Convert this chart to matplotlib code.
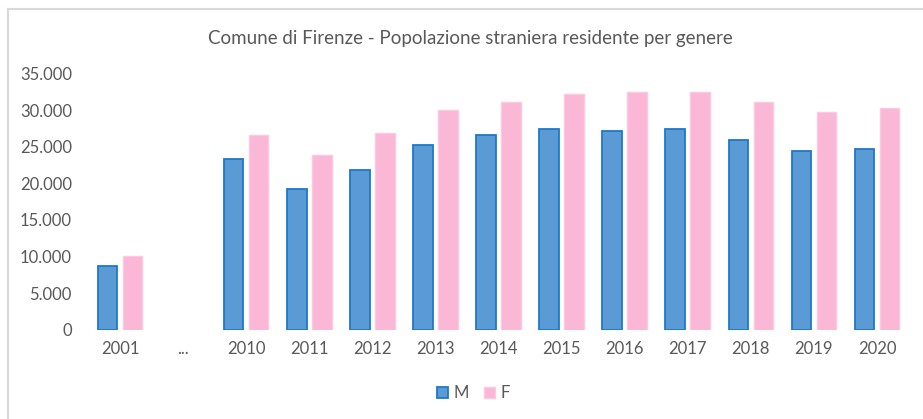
import matplotlib
matplotlib.use("Agg")
import matplotlib.pyplot as plt
from matplotlib.lines import Line2D
from matplotlib.patches import Patch
import numpy as np

categories = ["2001", "...", "2010", "2011", "2012", "2013", "2014", "2015",
              "2016", "2017", "2018", "2019", "2020"]
maschi = [8700, None, 23300, 19200, 21900, 25300, 26700, 27500,
          27200, 27400, 26000, 24400, 24700]
femmine = [10000, None, 26600, 23900, 26900, 30100, 31200, 32300,
           32500, 32600, 31200, 29800, 30400]
yticks = [0, 5000, 10000, 15000, 20000, 25000, 30000, 35000]

plt.rcParams['font.family'] = ['Lato', 'DejaVu Sans']
TXT = "#595959"

fig = plt.figure(figsize=(9.23, 4.19), dpi=100)
ax = fig.add_axes([0.0959, 0.2136, 0.8884, 0.6098])

x = np.arange(len(categories))
mx = [xi for xi, v in zip(x, maschi) if v is not None]
mv = [v for v in maschi if v is not None]
fx = [xi for xi, v in zip(x, femmine) if v is not None]
fv = [v for v in femmine if v is not None]

w = 0.31
off = 0.198
ax.bar(np.array(mx) - off, mv, width=w, color="#5B9BD5", edgecolor="#1F78C8",
       linewidth=1.3, label="M", zorder=2)
ax.bar(np.array(fx) + off, fv, width=w, color="#FAB7D6", edgecolor="#FCC9E0",
       linewidth=1.0, label="F", zorder=2)

ax.set_xlim(-0.5, len(categories) - 0.5)
ax.set_ylim(0, 35000)
ax.set_yticks(yticks)
ax.set_yticklabels([f"{v:,}".replace(",", ".") for v in yticks])
ax.set_xticks(x)
ax.set_xticklabels(categories)
ax.tick_params(axis="y", length=0, pad=12, labelsize=12, labelcolor=TXT)
ax.tick_params(axis="x", length=0, pad=8, labelsize=12, labelcolor=TXT)
for s in ax.spines.values():
    s.set_visible(False)

fig.text(0.510, 0.908, "Comune di Firenze - Popolazione straniera residente per genere",
         ha="center", va="center", fontsize=13.5, color=TXT)

handles = [Patch(facecolor="#5B9BD5", edgecolor="#1F78C8", linewidth=1.3, label="M"),
           Patch(facecolor="#FAB7D6", edgecolor="#FCC9E0", linewidth=1.0, label="F")]
leg = fig.legend(handles=handles, loc="center", bbox_to_anchor=(0.513, 0.062), ncol=2,
                 frameon=False, fontsize=12, handlelength=0.65, handleheight=0.65,
                 handletextpad=0.35, columnspacing=0.9)
for t in leg.get_texts():
    t.set_color(TXT)

# chart border (left and top)
fig.add_artist(Line2D([8/923, 8/923], [0, 1 - 9/419], transform=fig.transFigure,
                      color="#D9D9D9", linewidth=1.5))
fig.add_artist(Line2D([8/923, 1], [1 - 9/419, 1 - 9/419], transform=fig.transFigure,
                      color="#D9D9D9", linewidth=1.5))

fig.savefig("out.png", dpi=100, facecolor="white")
